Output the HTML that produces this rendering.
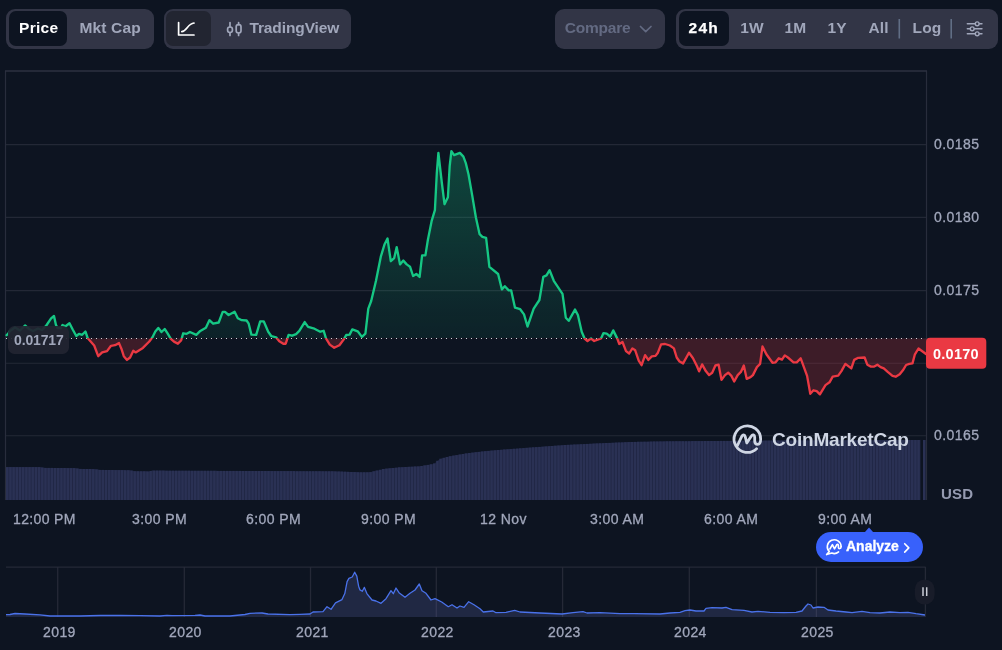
<!DOCTYPE html>
<html><head><meta charset="utf-8"><title>Chart</title>
<style>
*{box-sizing:border-box;margin:0;padding:0}
html,body{width:1002px;height:650px;background:#0d1421;overflow:hidden;font-family:"Liberation Sans",sans-serif;}
.pill{position:absolute;top:9px;height:40px;background:#323546;border-radius:9px;}
.seg{position:absolute;top:2px;height:35px;border-radius:7px;}
.t{position:absolute;top:-1.4px;letter-spacing:0.1px;height:40px;line-height:40px;font-size:15.5px;font-weight:700;color:#a1a7bb;white-space:nowrap;}
.w{color:#fff}
.pill,.lab{will-change:transform}
svg{position:absolute;left:0;top:0}
.lab{position:absolute;font-size:14px;color:#a1a7bb;white-space:nowrap;line-height:16px;letter-spacing:0.42px;-webkit-text-stroke:0.3px #a1a7bb;}
</style></head><body>

<!-- toolbar -->
<div class="pill" style="left:6px;width:148px;">
  <div class="seg" style="left:2.5px;width:58.5px;background:#0d1421"></div>
  <div class="t w" style="left:13px;letter-spacing:0.3px">Price</div>
  <div class="t" style="left:73.5px;letter-spacing:0.15px">Mkt Cap</div>
</div>
<div class="pill" style="left:164px;width:187px;">
  <div class="seg" style="left:2px;width:45px;background:#222531"></div>
  <div class="t" style="left:85.4px;letter-spacing:-0.1px">TradingView</div>
</div>
<div class="pill" style="left:555.3px;width:109.7px;">
  <div class="t" style="left:9.7px;color:#636a82;letter-spacing:-0.2px">Compare</div>
</div>
<div class="pill" style="left:675.5px;width:321.5px;">
  <div class="seg" style="left:3.3px;width:49.5px;background:#0d1421"></div>
  <div class="t w" style="left:12.5px;letter-spacing:1.3px;-webkit-text-stroke:0.25px #fff">24h</div>
  <div class="t" style="left:64.2px">1W</div>
  <div class="t" style="left:108.5px">1M</div>
  <div class="t" style="left:151.5px">1Y</div>
  <div class="t" style="left:192.5px">All</div>
  <div class="t" style="left:236.6px">Log</div>
</div>

<svg width="1002" height="650" viewBox="0 0 1002 650">
  <defs>
    <clipPath id="up"><rect x="0" y="60" width="1002" height="278.3"/></clipPath>
    <clipPath id="dn"><rect x="0" y="338.3" width="1002" height="200"/></clipPath>
    <linearGradient id="gg" x1="0" y1="150" x2="0" y2="338.3" gradientUnits="userSpaceOnUse">
      <stop offset="0" stop-color="#16c784" stop-opacity="0.285"/>
      <stop offset="1" stop-color="#16c784" stop-opacity="0.075"/>
    </linearGradient>
  </defs>

  <!-- toolbar icons -->
  <g fill="none" stroke="#fff" stroke-width="1.7" stroke-linecap="round" stroke-linejoin="round">
    <path d="M178.6,22.6 V35 H194"/>
    <path d="M181.8,31.6 C187,31.2 187.5,23.6 194,23"/>
  </g>
  <g fill="none" stroke="#a1a7bb" stroke-width="1.7" stroke-linecap="round">
    <path d="M230,22.5 V27 M230,32.5 V35.5 M238.6,22.5 V24.6 M238.6,33 V35.5"/>
    <rect x="227.6" y="27" width="4.8" height="5.5" rx="2.2"/>
    <rect x="236.2" y="24.6" width="4.8" height="8.4" rx="2.2"/>
  </g>
  <path d="M640.5,26.5 L645.7,31.7 L651,26.5" fill="none" stroke="#636a82" stroke-width="1.7" stroke-linecap="round" stroke-linejoin="round"/>
  <g stroke="#616e85" stroke-width="1.6">
    <path d="M899.3,19 V38.5 M951.2,19 V38.5"/>
  </g>
  <g fill="#323546" stroke="#a1a7bb" stroke-width="1.4" stroke-linecap="round">
    <path d="M967.3,23.8 H982 M967.3,28.8 H982 M967.3,33.8 H982"/>
    <circle cx="977.2" cy="23.8" r="1.9"/>
    <circle cx="972.2" cy="28.8" r="1.9"/>
    <circle cx="977.2" cy="33.8" r="1.9"/>
  </g>

  <!-- grid -->
  <g stroke="#232836" stroke-width="1.1">
    <path d="M6,144.6 H926 M6,217.4 H926 M6,290.6 H926 M6,363.3 H926 M6,435.8 H926"/>
  </g>
  <g stroke="#282d3c" stroke-width="1.2" fill="none">
    <path d="M5.5,500 V71 M926.5,71 V500"/>
  </g>
  <path d="M5,71 H927" stroke="#2c3141" stroke-width="1.5" fill="none"/>

  <!-- volume -->
  <path d="M6.0,500.0 L6.0,467.1 L8.0,467.1 L10.0,467.1 L12.0,467.1 L14.0,467.1 L16.0,467.1 L18.0,467.1 L20.0,467.1 L22.0,467.1 L24.0,467.1 L26.0,467.1 L28.0,467.1 L30.0,467.1 L32.0,467.1 L34.0,467.1 L36.0,467.1 L38.0,467.1 L40.0,467.1 L42.0,467.4 L44.0,467.7 L46.0,467.9 L48.0,467.9 L50.0,467.9 L52.0,467.9 L54.0,468.0 L56.0,468.0 L58.0,468.0 L60.0,468.0 L62.0,468.0 L64.0,468.0 L66.0,468.0 L68.0,468.1 L70.0,468.1 L72.0,468.1 L74.0,468.1 L76.0,468.3 L78.0,468.6 L80.0,468.9 L82.0,468.9 L84.0,469.0 L86.0,469.0 L88.0,469.0 L90.0,469.0 L92.0,469.1 L94.0,469.1 L96.0,469.3 L98.0,469.6 L100.0,469.9 L102.0,469.9 L104.0,469.9 L106.0,470.0 L108.0,470.0 L110.0,470.0 L112.0,470.0 L114.0,470.0 L116.0,470.1 L118.0,470.1 L120.0,470.1 L122.0,470.1 L124.0,470.1 L126.0,470.2 L128.0,470.2 L130.0,470.2 L132.0,470.6 L134.0,471.0 L136.0,471.2 L138.0,471.2 L140.0,471.3 L142.0,471.3 L144.0,471.3 L146.0,471.3 L148.0,471.4 L150.0,471.4 L152.0,470.6 L154.0,470.6 L156.0,470.6 L158.0,470.6 L160.0,470.6 L162.0,470.6 L164.0,470.6 L166.0,470.7 L168.0,470.7 L170.0,470.7 L172.0,470.7 L174.0,470.7 L176.0,470.7 L178.0,470.7 L180.0,470.7 L182.0,470.7 L184.0,470.7 L186.0,470.7 L188.0,470.7 L190.0,470.7 L192.0,470.8 L194.0,470.8 L196.0,470.8 L198.0,470.8 L200.0,470.8 L202.0,470.8 L204.0,470.8 L206.0,470.8 L208.0,470.8 L210.0,470.8 L212.0,470.8 L214.0,470.8 L216.0,470.8 L218.0,470.9 L220.0,470.9 L222.0,470.9 L224.0,470.9 L226.0,470.9 L228.0,470.9 L230.0,470.9 L232.0,470.9 L234.0,470.9 L236.0,470.9 L238.0,470.9 L240.0,470.9 L242.0,470.9 L244.0,471.0 L246.0,471.0 L248.0,471.0 L250.0,471.0 L252.0,471.0 L254.0,471.0 L256.0,471.0 L258.0,471.0 L260.0,471.0 L262.0,471.0 L264.0,471.0 L266.0,471.0 L268.0,471.0 L270.0,471.1 L272.0,471.1 L274.0,471.1 L276.0,471.1 L278.0,471.1 L280.0,471.1 L282.0,471.1 L284.0,471.1 L286.0,471.1 L288.0,471.1 L290.0,471.1 L292.0,471.1 L294.0,471.1 L296.0,471.2 L298.0,471.2 L300.0,471.2 L302.0,471.2 L304.0,471.2 L306.0,471.2 L308.0,471.2 L310.0,471.2 L312.0,471.2 L314.0,471.2 L316.0,471.2 L318.0,471.2 L320.0,471.2 L322.0,471.3 L324.0,471.3 L326.0,471.3 L328.0,471.3 L330.0,471.3 L332.0,471.3 L334.0,471.3 L336.0,471.4 L338.0,471.5 L340.0,471.5 L342.0,471.6 L344.0,471.7 L346.0,471.8 L348.0,471.8 L350.0,471.9 L352.0,472.0 L354.0,472.1 L356.0,472.1 L358.0,472.2 L360.0,472.3 L362.0,472.3 L364.0,472.3 L366.0,472.3 L368.0,472.3 L370.0,472.3 L372.0,471.8 L374.0,471.3 L376.0,470.8 L378.0,470.4 L380.0,469.9 L382.0,469.4 L384.0,468.9 L386.0,468.7 L388.0,468.5 L390.0,468.3 L392.0,468.1 L394.0,467.9 L396.0,467.7 L398.0,467.5 L400.0,467.3 L402.0,467.2 L404.0,467.1 L406.0,467.0 L408.0,466.9 L410.0,466.8 L412.0,466.7 L414.0,466.6 L416.0,466.5 L418.0,466.4 L420.0,466.3 L422.0,466.0 L424.0,465.6 L426.0,465.3 L428.0,464.9 L430.0,464.6 L432.0,464.2 L434.0,463.9 L436.0,462.2 L438.0,460.6 L440.0,458.9 L442.0,458.4 L444.0,457.9 L446.0,457.3 L448.0,456.8 L450.0,456.3 L452.0,455.9 L454.0,455.6 L456.0,455.2 L458.0,454.9 L460.0,454.5 L462.0,454.2 L464.0,453.8 L466.0,453.5 L468.0,453.2 L470.0,452.9 L472.0,452.7 L474.0,452.5 L476.0,452.2 L478.0,452.0 L480.0,451.8 L482.0,451.5 L484.0,451.3 L486.0,451.1 L488.0,451.0 L490.0,450.8 L492.0,450.6 L494.0,450.4 L496.0,450.2 L498.0,450.1 L500.0,449.9 L502.0,449.7 L504.0,449.6 L506.0,449.4 L508.0,449.3 L510.0,449.1 L512.0,449.0 L514.0,448.8 L516.0,448.7 L518.0,448.5 L520.0,448.4 L522.0,448.2 L524.0,448.1 L526.0,447.9 L528.0,447.8 L530.0,447.6 L532.0,447.5 L534.0,447.3 L536.0,447.2 L538.0,447.0 L540.0,446.9 L542.0,446.7 L544.0,446.6 L546.0,446.4 L548.0,446.3 L550.0,446.1 L552.0,446.0 L554.0,445.8 L556.0,445.7 L558.0,445.6 L560.0,445.4 L562.0,445.3 L564.0,445.1 L566.0,445.0 L568.0,444.9 L570.0,444.8 L572.0,444.7 L574.0,444.6 L576.0,444.5 L578.0,444.4 L580.0,444.3 L582.0,444.2 L584.0,444.1 L586.0,444.0 L588.0,443.9 L590.0,443.8 L592.0,443.7 L594.0,443.6 L596.0,443.5 L598.0,443.4 L600.0,443.3 L602.0,443.2 L604.0,443.1 L606.0,443.1 L608.0,443.0 L610.0,442.9 L612.0,442.8 L614.0,442.7 L616.0,442.6 L618.0,442.6 L620.0,442.5 L622.0,442.4 L624.0,442.3 L626.0,442.2 L628.0,442.1 L630.0,442.1 L632.0,442.0 L634.0,441.9 L636.0,441.9 L638.0,441.8 L640.0,441.8 L642.0,441.8 L644.0,441.7 L646.0,441.7 L648.0,441.7 L650.0,441.6 L652.0,441.6 L654.0,441.5 L656.0,441.5 L658.0,441.5 L660.0,441.4 L662.0,441.4 L664.0,441.4 L666.0,441.3 L668.0,441.3 L670.0,441.3 L672.0,441.3 L674.0,441.3 L676.0,441.2 L678.0,441.2 L680.0,441.2 L682.0,441.2 L684.0,441.2 L686.0,441.2 L688.0,441.2 L690.0,441.2 L692.0,441.1 L694.0,441.1 L696.0,441.1 L698.0,441.1 L700.0,441.1 L702.0,441.1 L704.0,441.1 L706.0,441.0 L708.0,441.0 L710.0,441.0 L712.0,441.0 L714.0,441.0 L716.0,441.0 L718.0,441.0 L720.0,440.9 L722.0,440.9 L724.0,440.9 L726.0,440.9 L728.0,440.9 L730.0,440.9 L732.0,440.9 L734.0,440.9 L736.0,440.8 L738.0,440.8 L740.0,440.8 L742.0,440.8 L744.0,440.8 L746.0,440.8 L748.0,440.8 L750.0,440.7 L752.0,440.7 L754.0,440.7 L756.0,440.7 L758.0,440.7 L760.0,440.7 L762.0,440.7 L764.0,440.6 L766.0,440.6 L768.0,440.6 L770.0,440.6 L772.0,440.6 L774.0,440.6 L776.0,440.6 L778.0,440.6 L780.0,440.5 L782.0,440.5 L784.0,440.5 L786.0,440.5 L788.0,440.5 L790.0,440.5 L792.0,440.5 L794.0,440.4 L796.0,440.4 L798.0,440.4 L800.0,440.4 L802.0,440.4 L804.0,440.4 L806.0,440.4 L808.0,440.4 L810.0,440.4 L812.0,440.4 L814.0,440.4 L816.0,440.3 L818.0,440.3 L820.0,440.3 L822.0,440.3 L824.0,440.3 L826.0,440.3 L828.0,440.3 L830.0,440.3 L832.0,440.3 L834.0,440.3 L836.0,440.3 L838.0,440.3 L840.0,440.3 L842.0,440.3 L844.0,440.3 L846.0,440.2 L848.0,440.2 L850.0,440.2 L852.0,440.2 L854.0,440.2 L856.0,440.2 L858.0,440.2 L860.0,440.2 L862.0,440.2 L864.0,440.2 L866.0,440.2 L868.0,440.2 L870.0,440.2 L872.0,440.2 L874.0,440.2 L876.0,440.1 L878.0,440.1 L880.0,440.1 L882.0,440.1 L884.0,440.1 L886.0,440.1 L888.0,440.1 L890.0,440.1 L892.0,440.1 L894.0,440.1 L896.0,440.1 L898.0,440.1 L900.0,440.1 L902.0,440.1 L904.0,440.1 L906.0,440.0 L908.0,440.0 L910.0,440.0 L912.0,440.0 L914.0,440.0 L916.0,440.0 L918.0,440.0 L920.0,440.0 L920.5,439.4 L920.5,500.0 Z" fill="#1f2542"/>
  <g fill="#2a3154"><rect x="6.00" y="467.1" width="2.49" height="32.9"/><rect x="9.19" y="467.1" width="2.49" height="32.9"/><rect x="12.37" y="467.1" width="2.49" height="32.9"/><rect x="15.56" y="467.1" width="2.49" height="32.9"/><rect x="18.75" y="467.1" width="2.49" height="32.9"/><rect x="21.93" y="467.1" width="2.49" height="32.9"/><rect x="25.12" y="467.1" width="2.49" height="32.9"/><rect x="28.30" y="467.1" width="2.49" height="32.9"/><rect x="31.49" y="467.1" width="2.49" height="32.9"/><rect x="34.68" y="467.1" width="2.49" height="32.9"/><rect x="37.86" y="467.1" width="2.49" height="32.9"/><rect x="41.05" y="467.5" width="2.49" height="32.5"/><rect x="44.24" y="467.9" width="2.49" height="32.1"/><rect x="47.42" y="467.9" width="2.49" height="32.1"/><rect x="50.61" y="467.9" width="2.49" height="32.1"/><rect x="53.80" y="468.0" width="2.49" height="32.0"/><rect x="56.98" y="468.0" width="2.49" height="32.0"/><rect x="60.17" y="468.0" width="2.49" height="32.0"/><rect x="63.36" y="468.0" width="2.49" height="32.0"/><rect x="66.54" y="468.1" width="2.49" height="31.9"/><rect x="69.73" y="468.1" width="2.49" height="31.9"/><rect x="72.91" y="468.1" width="2.49" height="31.9"/><rect x="76.10" y="468.5" width="2.49" height="31.5"/><rect x="79.29" y="468.9" width="2.49" height="31.1"/><rect x="82.47" y="469.0" width="2.49" height="31.0"/><rect x="85.66" y="469.0" width="2.49" height="31.0"/><rect x="88.85" y="469.0" width="2.49" height="31.0"/><rect x="92.03" y="469.1" width="2.49" height="30.9"/><rect x="95.22" y="469.4" width="2.49" height="30.6"/><rect x="98.41" y="469.9" width="2.49" height="30.1"/><rect x="101.59" y="469.9" width="2.49" height="30.1"/><rect x="104.78" y="470.0" width="2.49" height="30.0"/><rect x="107.97" y="470.0" width="2.49" height="30.0"/><rect x="111.15" y="470.0" width="2.49" height="30.0"/><rect x="114.34" y="470.1" width="2.49" height="29.9"/><rect x="117.52" y="470.1" width="2.49" height="29.9"/><rect x="120.71" y="470.1" width="2.49" height="29.9"/><rect x="123.90" y="470.2" width="2.49" height="29.8"/><rect x="127.08" y="470.2" width="2.49" height="29.8"/><rect x="130.27" y="470.6" width="2.49" height="29.4"/><rect x="133.46" y="471.2" width="2.49" height="28.8"/><rect x="136.64" y="471.2" width="2.49" height="28.8"/><rect x="139.83" y="471.3" width="2.49" height="28.7"/><rect x="143.02" y="471.3" width="2.49" height="28.7"/><rect x="146.20" y="471.4" width="2.49" height="28.6"/><rect x="149.39" y="471.0" width="2.49" height="29.0"/><rect x="152.57" y="470.6" width="2.49" height="29.4"/><rect x="155.76" y="470.6" width="2.49" height="29.4"/><rect x="158.95" y="470.6" width="2.49" height="29.4"/><rect x="162.13" y="470.6" width="2.49" height="29.4"/><rect x="165.32" y="470.7" width="2.49" height="29.3"/><rect x="168.51" y="470.7" width="2.49" height="29.3"/><rect x="171.69" y="470.7" width="2.49" height="29.3"/><rect x="174.88" y="470.7" width="2.49" height="29.3"/><rect x="178.07" y="470.7" width="2.49" height="29.3"/><rect x="181.25" y="470.7" width="2.49" height="29.3"/><rect x="184.44" y="470.7" width="2.49" height="29.3"/><rect x="187.63" y="470.7" width="2.49" height="29.3"/><rect x="190.81" y="470.8" width="2.49" height="29.2"/><rect x="194.00" y="470.8" width="2.49" height="29.2"/><rect x="197.18" y="470.8" width="2.49" height="29.2"/><rect x="200.37" y="470.8" width="2.49" height="29.2"/><rect x="203.56" y="470.8" width="2.49" height="29.2"/><rect x="206.74" y="470.8" width="2.49" height="29.2"/><rect x="209.93" y="470.8" width="2.49" height="29.2"/><rect x="213.12" y="470.8" width="2.49" height="29.2"/><rect x="216.30" y="470.9" width="2.49" height="29.1"/><rect x="219.49" y="470.9" width="2.49" height="29.1"/><rect x="222.68" y="470.9" width="2.49" height="29.1"/><rect x="225.86" y="470.9" width="2.49" height="29.1"/><rect x="229.05" y="470.9" width="2.49" height="29.1"/><rect x="232.24" y="470.9" width="2.49" height="29.1"/><rect x="235.42" y="470.9" width="2.49" height="29.1"/><rect x="238.61" y="470.9" width="2.49" height="29.1"/><rect x="241.79" y="471.0" width="2.49" height="29.0"/><rect x="244.98" y="471.0" width="2.49" height="29.0"/><rect x="248.17" y="471.0" width="2.49" height="29.0"/><rect x="251.35" y="471.0" width="2.49" height="29.0"/><rect x="254.54" y="471.0" width="2.49" height="29.0"/><rect x="257.73" y="471.0" width="2.49" height="29.0"/><rect x="260.91" y="471.0" width="2.49" height="29.0"/><rect x="264.10" y="471.0" width="2.49" height="29.0"/><rect x="267.29" y="471.0" width="2.49" height="29.0"/><rect x="270.47" y="471.1" width="2.49" height="28.9"/><rect x="273.66" y="471.1" width="2.49" height="28.9"/><rect x="276.84" y="471.1" width="2.49" height="28.9"/><rect x="280.03" y="471.1" width="2.49" height="28.9"/><rect x="283.22" y="471.1" width="2.49" height="28.9"/><rect x="286.40" y="471.1" width="2.49" height="28.9"/><rect x="289.59" y="471.1" width="2.49" height="28.9"/><rect x="292.78" y="471.1" width="2.49" height="28.9"/><rect x="295.96" y="471.2" width="2.49" height="28.8"/><rect x="299.15" y="471.2" width="2.49" height="28.8"/><rect x="302.34" y="471.2" width="2.49" height="28.8"/><rect x="305.52" y="471.2" width="2.49" height="28.8"/><rect x="308.71" y="471.2" width="2.49" height="28.8"/><rect x="311.90" y="471.2" width="2.49" height="28.8"/><rect x="315.08" y="471.2" width="2.49" height="28.8"/><rect x="318.27" y="471.2" width="2.49" height="28.8"/><rect x="321.45" y="471.3" width="2.49" height="28.7"/><rect x="324.64" y="471.3" width="2.49" height="28.7"/><rect x="327.83" y="471.3" width="2.49" height="28.7"/><rect x="331.01" y="471.3" width="2.49" height="28.7"/><rect x="334.20" y="471.4" width="2.49" height="28.6"/><rect x="337.39" y="471.5" width="2.49" height="28.5"/><rect x="340.57" y="471.6" width="2.49" height="28.4"/><rect x="343.76" y="471.7" width="2.49" height="28.3"/><rect x="346.95" y="471.9" width="2.49" height="28.1"/><rect x="350.13" y="472.0" width="2.49" height="28.0"/><rect x="353.32" y="472.1" width="2.49" height="27.9"/><rect x="356.51" y="472.2" width="2.49" height="27.8"/><rect x="359.69" y="472.3" width="2.49" height="27.7"/><rect x="362.88" y="472.3" width="2.49" height="27.7"/><rect x="366.06" y="472.3" width="2.49" height="27.7"/><rect x="369.25" y="472.1" width="2.49" height="27.9"/><rect x="372.44" y="471.3" width="2.49" height="28.7"/><rect x="375.62" y="470.5" width="2.49" height="29.5"/><rect x="378.81" y="469.8" width="2.49" height="30.2"/><rect x="382.00" y="469.0" width="2.49" height="31.0"/><rect x="385.18" y="468.6" width="2.49" height="31.4"/><rect x="388.37" y="468.3" width="2.49" height="31.7"/><rect x="391.56" y="468.0" width="2.49" height="32.0"/><rect x="394.74" y="467.7" width="2.49" height="32.3"/><rect x="397.93" y="467.3" width="2.49" height="32.7"/><rect x="401.11" y="467.2" width="2.49" height="32.8"/><rect x="404.30" y="467.0" width="2.49" height="33.0"/><rect x="407.49" y="466.8" width="2.49" height="33.2"/><rect x="410.67" y="466.7" width="2.49" height="33.3"/><rect x="413.86" y="466.5" width="2.49" height="33.5"/><rect x="417.05" y="466.4" width="2.49" height="33.6"/><rect x="420.23" y="466.0" width="2.49" height="34.0"/><rect x="423.42" y="465.4" width="2.49" height="34.6"/><rect x="426.61" y="464.9" width="2.49" height="35.1"/><rect x="429.79" y="464.3" width="2.49" height="35.7"/><rect x="432.98" y="463.4" width="2.49" height="36.6"/><rect x="436.17" y="460.8" width="2.49" height="39.2"/><rect x="439.35" y="458.7" width="2.49" height="41.3"/><rect x="442.54" y="457.8" width="2.49" height="42.2"/><rect x="445.72" y="457.0" width="2.49" height="43.0"/><rect x="448.91" y="456.2" width="2.49" height="43.8"/><rect x="452.10" y="455.6" width="2.49" height="44.4"/><rect x="455.28" y="455.1" width="2.49" height="44.9"/><rect x="458.47" y="454.5" width="2.49" height="45.5"/><rect x="461.66" y="454.0" width="2.49" height="46.0"/><rect x="464.84" y="453.4" width="2.49" height="46.6"/><rect x="468.03" y="453.0" width="2.49" height="47.0"/><rect x="471.22" y="452.6" width="2.49" height="47.4"/><rect x="474.40" y="452.2" width="2.49" height="47.8"/><rect x="477.59" y="451.9" width="2.49" height="48.1"/><rect x="480.78" y="451.5" width="2.49" height="48.5"/><rect x="483.96" y="451.2" width="2.49" height="48.8"/><rect x="487.15" y="450.9" width="2.49" height="49.1"/><rect x="490.33" y="450.6" width="2.49" height="49.4"/><rect x="493.52" y="450.3" width="2.49" height="49.7"/><rect x="496.71" y="450.0" width="2.49" height="50.0"/><rect x="499.89" y="449.8" width="2.49" height="50.2"/><rect x="503.08" y="449.5" width="2.49" height="50.5"/><rect x="506.27" y="449.3" width="2.49" height="50.7"/><rect x="509.45" y="449.1" width="2.49" height="50.9"/><rect x="512.64" y="448.8" width="2.49" height="51.2"/><rect x="515.83" y="448.6" width="2.49" height="51.4"/><rect x="519.01" y="448.3" width="2.49" height="51.7"/><rect x="522.20" y="448.1" width="2.49" height="51.9"/><rect x="525.39" y="447.8" width="2.49" height="52.2"/><rect x="528.57" y="447.6" width="2.49" height="52.4"/><rect x="531.76" y="447.3" width="2.49" height="52.7"/><rect x="534.94" y="447.1" width="2.49" height="52.9"/><rect x="538.13" y="446.9" width="2.49" height="53.1"/><rect x="541.32" y="446.7" width="2.49" height="53.3"/><rect x="544.50" y="446.4" width="2.49" height="53.6"/><rect x="547.69" y="446.2" width="2.49" height="53.8"/><rect x="550.88" y="446.0" width="2.49" height="54.0"/><rect x="554.06" y="445.7" width="2.49" height="54.3"/><rect x="557.25" y="445.5" width="2.49" height="54.5"/><rect x="560.44" y="445.3" width="2.49" height="54.7"/><rect x="563.62" y="445.0" width="2.49" height="55.0"/><rect x="566.81" y="444.8" width="2.49" height="55.2"/><rect x="569.99" y="444.7" width="2.49" height="55.3"/><rect x="573.18" y="444.5" width="2.49" height="55.5"/><rect x="576.37" y="444.4" width="2.49" height="55.6"/><rect x="579.55" y="444.2" width="2.49" height="55.8"/><rect x="582.74" y="444.1" width="2.49" height="55.9"/><rect x="585.93" y="443.9" width="2.49" height="56.1"/><rect x="589.11" y="443.8" width="2.49" height="56.2"/><rect x="592.30" y="443.6" width="2.49" height="56.4"/><rect x="595.49" y="443.4" width="2.49" height="56.6"/><rect x="598.67" y="443.3" width="2.49" height="56.7"/><rect x="601.86" y="443.2" width="2.49" height="56.8"/><rect x="605.05" y="443.0" width="2.49" height="57.0"/><rect x="608.23" y="442.9" width="2.49" height="57.1"/><rect x="611.42" y="442.8" width="2.49" height="57.2"/><rect x="614.60" y="442.6" width="2.49" height="57.4"/><rect x="617.79" y="442.5" width="2.49" height="57.5"/><rect x="620.98" y="442.4" width="2.49" height="57.6"/><rect x="624.16" y="442.2" width="2.49" height="57.8"/><rect x="627.35" y="442.1" width="2.49" height="57.9"/><rect x="630.54" y="442.0" width="2.49" height="58.0"/><rect x="633.72" y="441.9" width="2.49" height="58.1"/><rect x="636.91" y="441.8" width="2.49" height="58.2"/><rect x="640.10" y="441.8" width="2.49" height="58.2"/><rect x="643.28" y="441.7" width="2.49" height="58.3"/><rect x="646.47" y="441.7" width="2.49" height="58.3"/><rect x="649.66" y="441.6" width="2.49" height="58.4"/><rect x="652.84" y="441.5" width="2.49" height="58.5"/><rect x="656.03" y="441.5" width="2.49" height="58.5"/><rect x="659.21" y="441.4" width="2.49" height="58.6"/><rect x="662.40" y="441.4" width="2.49" height="58.6"/><rect x="665.59" y="441.3" width="2.49" height="58.7"/><rect x="668.77" y="441.3" width="2.49" height="58.7"/><rect x="671.96" y="441.3" width="2.49" height="58.7"/><rect x="675.15" y="441.2" width="2.49" height="58.8"/><rect x="678.33" y="441.2" width="2.49" height="58.8"/><rect x="681.52" y="441.2" width="2.49" height="58.8"/><rect x="684.71" y="441.2" width="2.49" height="58.8"/><rect x="687.89" y="441.2" width="2.49" height="58.8"/><rect x="691.08" y="441.1" width="2.49" height="58.9"/><rect x="694.26" y="441.1" width="2.49" height="58.9"/><rect x="697.45" y="441.1" width="2.49" height="58.9"/><rect x="700.64" y="441.1" width="2.49" height="58.9"/><rect x="703.82" y="441.0" width="2.49" height="59.0"/><rect x="707.01" y="441.0" width="2.49" height="59.0"/><rect x="710.20" y="441.0" width="2.49" height="59.0"/><rect x="713.38" y="441.0" width="2.49" height="59.0"/><rect x="716.57" y="441.0" width="2.49" height="59.0"/><rect x="719.76" y="440.9" width="2.49" height="59.1"/><rect x="722.94" y="440.9" width="2.49" height="59.1"/><rect x="726.13" y="440.9" width="2.49" height="59.1"/><rect x="729.32" y="440.9" width="2.49" height="59.1"/><rect x="732.50" y="440.8" width="2.49" height="59.2"/><rect x="735.69" y="440.8" width="2.49" height="59.2"/><rect x="738.87" y="440.8" width="2.49" height="59.2"/><rect x="742.06" y="440.8" width="2.49" height="59.2"/><rect x="745.25" y="440.8" width="2.49" height="59.2"/><rect x="748.43" y="440.7" width="2.49" height="59.3"/><rect x="751.62" y="440.7" width="2.49" height="59.3"/><rect x="754.81" y="440.7" width="2.49" height="59.3"/><rect x="757.99" y="440.7" width="2.49" height="59.3"/><rect x="761.18" y="440.7" width="2.49" height="59.3"/><rect x="764.37" y="440.6" width="2.49" height="59.4"/><rect x="767.55" y="440.6" width="2.49" height="59.4"/><rect x="770.74" y="440.6" width="2.49" height="59.4"/><rect x="773.93" y="440.6" width="2.49" height="59.4"/><rect x="777.11" y="440.5" width="2.49" height="59.5"/><rect x="780.30" y="440.5" width="2.49" height="59.5"/><rect x="783.48" y="440.5" width="2.49" height="59.5"/><rect x="786.67" y="440.5" width="2.49" height="59.5"/><rect x="789.86" y="440.5" width="2.49" height="59.5"/><rect x="793.04" y="440.4" width="2.49" height="59.6"/><rect x="796.23" y="440.4" width="2.49" height="59.6"/><rect x="799.42" y="440.4" width="2.49" height="59.6"/><rect x="802.60" y="440.4" width="2.49" height="59.6"/><rect x="805.79" y="440.4" width="2.49" height="59.6"/><rect x="808.98" y="440.4" width="2.49" height="59.6"/><rect x="812.16" y="440.4" width="2.49" height="59.6"/><rect x="815.35" y="440.3" width="2.49" height="59.7"/><rect x="818.53" y="440.3" width="2.49" height="59.7"/><rect x="821.72" y="440.3" width="2.49" height="59.7"/><rect x="824.91" y="440.3" width="2.49" height="59.7"/><rect x="828.09" y="440.3" width="2.49" height="59.7"/><rect x="831.28" y="440.3" width="2.49" height="59.7"/><rect x="834.47" y="440.3" width="2.49" height="59.7"/><rect x="837.65" y="440.3" width="2.49" height="59.7"/><rect x="840.84" y="440.3" width="2.49" height="59.7"/><rect x="844.03" y="440.2" width="2.49" height="59.8"/><rect x="847.21" y="440.2" width="2.49" height="59.8"/><rect x="850.40" y="440.2" width="2.49" height="59.8"/><rect x="853.59" y="440.2" width="2.49" height="59.8"/><rect x="856.77" y="440.2" width="2.49" height="59.8"/><rect x="859.96" y="440.2" width="2.49" height="59.8"/><rect x="863.14" y="440.2" width="2.49" height="59.8"/><rect x="866.33" y="440.2" width="2.49" height="59.8"/><rect x="869.52" y="440.2" width="2.49" height="59.8"/><rect x="872.70" y="440.2" width="2.49" height="59.8"/><rect x="875.89" y="440.1" width="2.49" height="59.9"/><rect x="879.08" y="440.1" width="2.49" height="59.9"/><rect x="882.26" y="440.1" width="2.49" height="59.9"/><rect x="885.45" y="440.1" width="2.49" height="59.9"/><rect x="888.64" y="440.1" width="2.49" height="59.9"/><rect x="891.82" y="440.1" width="2.49" height="59.9"/><rect x="895.01" y="440.1" width="2.49" height="59.9"/><rect x="898.20" y="440.1" width="2.49" height="59.9"/><rect x="901.38" y="440.1" width="2.49" height="59.9"/><rect x="904.57" y="440.0" width="2.49" height="60.0"/><rect x="907.75" y="440.0" width="2.49" height="60.0"/><rect x="910.94" y="440.0" width="2.49" height="60.0"/><rect x="914.13" y="440.0" width="2.49" height="60.0"/><rect x="917.31" y="440.0" width="2.49" height="60.0"/><rect x="923" y="440" width="2.6" height="60"/></g>

  <!-- areas -->
  <path d="M6.6,335.2 L8.0,334.0 L10.0,331.0 L15.0,327.5 L20.0,330.5 L25.0,325.5 L29.0,329.0 L33.0,331.0 L38.0,328.5 L42.0,330.0 L46.3,325.5 L51.1,318.4 L54.0,316.0 L55.9,324.8 L57.5,328.0 L61.0,328.0 L62.5,325.0 L65.5,326.3 L69.5,323.2 L72.7,329.5 L76.3,336.0 L79.0,333.9 L82.2,334.8 L85.4,331.5 L87.8,338.3 L94.2,345.5 L98.2,356.2 L102.2,352.4 L107.0,351.1 L111.0,345.8 L115.0,345.2 L119.0,343.1 L121.4,348.7 L123.8,356.2 L127.0,359.9 L130.1,357.5 L133.3,350.8 L135.7,352.4 L142.9,347.9 L149.3,341.5 L152.5,337.2 L155.3,331.5 L158.3,327.9 L161.5,332.0 L164.7,329.0 L167.6,333.3 L170.8,338.9 L174.0,341.6 L177.9,343.7 L181.1,340.5 L183.2,333.3 L186.7,333.8 L189.9,332.0 L196.3,334.9 L200.3,330.9 L205.9,327.7 L209.4,320.2 L213.1,323.7 L218.7,322.5 L222.7,311.8 L225.0,311.8 L228.6,315.0 L234.6,311.8 L237.8,318.2 L241.8,320.2 L246.6,320.5 L248.7,323.7 L251.4,334.6 L256.2,334.9 L260.2,321.3 L263.7,321.3 L268.2,331.7 L271.4,336.2 L276.1,337.3 L279.3,341.3 L283.3,343.7 L285.7,343.7 L288.6,334.9 L292.1,335.7 L296.1,334.1 L299.3,330.9 L304.7,322.1 L308.1,326.9 L313.5,328.3 L320.2,331.7 L323.7,330.8 L326.0,338.5 L329.8,344.6 L334.2,347.7 L339.4,345.2 L343.8,339.4 L346.2,335.0 L349.6,334.6 L352.3,329.4 L357.7,331.3 L361.9,336.9 L365.4,333.7 L368.3,308.7 L371.2,301.0 L376.0,280.8 L380.8,256.7 L384.6,244.2 L387.5,238.5 L390.8,261.2 L394.2,258.1 L396.7,247.1 L400.0,264.4 L403.3,260.6 L406.7,264.4 L410.0,266.7 L413.1,276.0 L416.3,274.0 L419.6,276.9 L422.1,255.4 L425.4,255.4 L427.9,239.7 L431.6,221.2 L434.9,210.2 L436.8,173.2 L438.4,152.9 L441.8,182.5 L444.5,204.2 L447.9,197.2 L449.7,165.8 L451.4,151.1 L454.1,155.1 L459.9,152.9 L463.4,156.6 L465.8,163.1 L468.5,174.2 L472.2,195.4 L475.9,217.5 L479.6,234.2 L482.4,236.9 L486.1,237.8 L489.4,266.9 L498.1,274.0 L501.9,289.4 L504.8,286.2 L508.7,290.4 L511.2,290.4 L515.0,307.7 L520.2,309.2 L524.0,314.4 L527.5,326.5 L533.7,308.7 L539.4,300.0 L543.3,276.9 L546.5,275.4 L549.6,270.2 L553.8,280.8 L562.5,293.8 L565.8,317.7 L568.7,320.8 L575.0,309.6 L577.9,315.0 L581.7,331.7 L584.6,338.5 L587.5,341.0 L591.0,338.5 L594.2,341.0 L601.0,338.5 L603.5,333.1 L606.7,333.7 L610.2,336.5 L613.2,330.4 L617.2,338.4 L619.3,344.0 L622.5,342.0 L626.0,351.1 L629.2,353.5 L632.4,348.4 L635.2,350.3 L638.7,360.7 L641.6,365.2 L645.1,355.1 L648.3,359.9 L651.8,356.4 L655.5,355.9 L657.9,352.7 L661.1,344.3 L665.1,344.0 L669.9,345.5 L673.9,348.4 L676.7,357.5 L679.5,361.5 L683.1,363.4 L689.0,352.7 L693.0,358.3 L697.0,366.3 L699.1,371.4 L702.1,364.4 L705.8,371.1 L709.0,375.1 L712.2,372.7 L715.4,365.5 L718.6,364.7 L721.5,379.9 L725.0,375.1 L728.2,372.7 L731.4,375.9 L734.2,381.5 L737.7,375.1 L740.9,371.9 L743.8,365.5 L746.7,378.8 L750.5,377.2 L752.9,375.1 L756.9,367.1 L760.1,363.9 L762.5,346.5 L766.4,354.3 L772.5,362.8 L775.6,362.3 L778.8,358.3 L782.0,359.6 L784.8,355.4 L787.9,357.5 L793.5,362.3 L796.7,362.3 L800.7,358.3 L803.9,367.1 L807.1,375.9 L810.3,393.8 L813.5,390.3 L816.7,391.1 L819.9,394.3 L825.5,385.1 L829.5,382.3 L832.7,376.7 L838.2,375.6 L841.4,371.1 L845.4,363.9 L851.3,368.4 L854.2,359.9 L858.2,357.8 L864.6,357.5 L867.3,364.7 L871.0,366.6 L874.2,366.6 L877.4,364.7 L880.6,367.1 L883.8,368.4 L887.7,371.9 L892.5,375.9 L895.7,376.7 L899.7,374.3 L902.9,370.3 L906.1,365.0 L909.3,363.9 L912.5,363.4 L914.9,354.3 L918.5,348.5 L926.0,354.0 L926,338.3 L6,338.3 Z" fill="url(#gg)" clip-path="url(#up)"/>
  <path d="M6.6,335.2 L8.0,334.0 L10.0,331.0 L15.0,327.5 L20.0,330.5 L25.0,325.5 L29.0,329.0 L33.0,331.0 L38.0,328.5 L42.0,330.0 L46.3,325.5 L51.1,318.4 L54.0,316.0 L55.9,324.8 L57.5,328.0 L61.0,328.0 L62.5,325.0 L65.5,326.3 L69.5,323.2 L72.7,329.5 L76.3,336.0 L79.0,333.9 L82.2,334.8 L85.4,331.5 L87.8,338.3 L94.2,345.5 L98.2,356.2 L102.2,352.4 L107.0,351.1 L111.0,345.8 L115.0,345.2 L119.0,343.1 L121.4,348.7 L123.8,356.2 L127.0,359.9 L130.1,357.5 L133.3,350.8 L135.7,352.4 L142.9,347.9 L149.3,341.5 L152.5,337.2 L155.3,331.5 L158.3,327.9 L161.5,332.0 L164.7,329.0 L167.6,333.3 L170.8,338.9 L174.0,341.6 L177.9,343.7 L181.1,340.5 L183.2,333.3 L186.7,333.8 L189.9,332.0 L196.3,334.9 L200.3,330.9 L205.9,327.7 L209.4,320.2 L213.1,323.7 L218.7,322.5 L222.7,311.8 L225.0,311.8 L228.6,315.0 L234.6,311.8 L237.8,318.2 L241.8,320.2 L246.6,320.5 L248.7,323.7 L251.4,334.6 L256.2,334.9 L260.2,321.3 L263.7,321.3 L268.2,331.7 L271.4,336.2 L276.1,337.3 L279.3,341.3 L283.3,343.7 L285.7,343.7 L288.6,334.9 L292.1,335.7 L296.1,334.1 L299.3,330.9 L304.7,322.1 L308.1,326.9 L313.5,328.3 L320.2,331.7 L323.7,330.8 L326.0,338.5 L329.8,344.6 L334.2,347.7 L339.4,345.2 L343.8,339.4 L346.2,335.0 L349.6,334.6 L352.3,329.4 L357.7,331.3 L361.9,336.9 L365.4,333.7 L368.3,308.7 L371.2,301.0 L376.0,280.8 L380.8,256.7 L384.6,244.2 L387.5,238.5 L390.8,261.2 L394.2,258.1 L396.7,247.1 L400.0,264.4 L403.3,260.6 L406.7,264.4 L410.0,266.7 L413.1,276.0 L416.3,274.0 L419.6,276.9 L422.1,255.4 L425.4,255.4 L427.9,239.7 L431.6,221.2 L434.9,210.2 L436.8,173.2 L438.4,152.9 L441.8,182.5 L444.5,204.2 L447.9,197.2 L449.7,165.8 L451.4,151.1 L454.1,155.1 L459.9,152.9 L463.4,156.6 L465.8,163.1 L468.5,174.2 L472.2,195.4 L475.9,217.5 L479.6,234.2 L482.4,236.9 L486.1,237.8 L489.4,266.9 L498.1,274.0 L501.9,289.4 L504.8,286.2 L508.7,290.4 L511.2,290.4 L515.0,307.7 L520.2,309.2 L524.0,314.4 L527.5,326.5 L533.7,308.7 L539.4,300.0 L543.3,276.9 L546.5,275.4 L549.6,270.2 L553.8,280.8 L562.5,293.8 L565.8,317.7 L568.7,320.8 L575.0,309.6 L577.9,315.0 L581.7,331.7 L584.6,338.5 L587.5,341.0 L591.0,338.5 L594.2,341.0 L601.0,338.5 L603.5,333.1 L606.7,333.7 L610.2,336.5 L613.2,330.4 L617.2,338.4 L619.3,344.0 L622.5,342.0 L626.0,351.1 L629.2,353.5 L632.4,348.4 L635.2,350.3 L638.7,360.7 L641.6,365.2 L645.1,355.1 L648.3,359.9 L651.8,356.4 L655.5,355.9 L657.9,352.7 L661.1,344.3 L665.1,344.0 L669.9,345.5 L673.9,348.4 L676.7,357.5 L679.5,361.5 L683.1,363.4 L689.0,352.7 L693.0,358.3 L697.0,366.3 L699.1,371.4 L702.1,364.4 L705.8,371.1 L709.0,375.1 L712.2,372.7 L715.4,365.5 L718.6,364.7 L721.5,379.9 L725.0,375.1 L728.2,372.7 L731.4,375.9 L734.2,381.5 L737.7,375.1 L740.9,371.9 L743.8,365.5 L746.7,378.8 L750.5,377.2 L752.9,375.1 L756.9,367.1 L760.1,363.9 L762.5,346.5 L766.4,354.3 L772.5,362.8 L775.6,362.3 L778.8,358.3 L782.0,359.6 L784.8,355.4 L787.9,357.5 L793.5,362.3 L796.7,362.3 L800.7,358.3 L803.9,367.1 L807.1,375.9 L810.3,393.8 L813.5,390.3 L816.7,391.1 L819.9,394.3 L825.5,385.1 L829.5,382.3 L832.7,376.7 L838.2,375.6 L841.4,371.1 L845.4,363.9 L851.3,368.4 L854.2,359.9 L858.2,357.8 L864.6,357.5 L867.3,364.7 L871.0,366.6 L874.2,366.6 L877.4,364.7 L880.6,367.1 L883.8,368.4 L887.7,371.9 L892.5,375.9 L895.7,376.7 L899.7,374.3 L902.9,370.3 L906.1,365.0 L909.3,363.9 L912.5,363.4 L914.9,354.3 L918.5,348.5 L926.0,354.0 L926,338.3 L6,338.3 Z" fill="#ea3943" fill-opacity="0.22" clip-path="url(#dn)"/>

  <!-- baseline dotted -->
  <path d="M6,338.5 H926" stroke="#d0d2da" stroke-width="1" stroke-dasharray="1 4" fill="none" shape-rendering="crispEdges"/>

  <!-- lines -->
  <path d="M6.6,335.2 L8.0,334.0 L10.0,331.0 L15.0,327.5 L20.0,330.5 L25.0,325.5 L29.0,329.0 L33.0,331.0 L38.0,328.5 L42.0,330.0 L46.3,325.5 L51.1,318.4 L54.0,316.0 L55.9,324.8 L57.5,328.0 L61.0,328.0 L62.5,325.0 L65.5,326.3 L69.5,323.2 L72.7,329.5 L76.3,336.0 L79.0,333.9 L82.2,334.8 L85.4,331.5 L87.8,338.3 L94.2,345.5 L98.2,356.2 L102.2,352.4 L107.0,351.1 L111.0,345.8 L115.0,345.2 L119.0,343.1 L121.4,348.7 L123.8,356.2 L127.0,359.9 L130.1,357.5 L133.3,350.8 L135.7,352.4 L142.9,347.9 L149.3,341.5 L152.5,337.2 L155.3,331.5 L158.3,327.9 L161.5,332.0 L164.7,329.0 L167.6,333.3 L170.8,338.9 L174.0,341.6 L177.9,343.7 L181.1,340.5 L183.2,333.3 L186.7,333.8 L189.9,332.0 L196.3,334.9 L200.3,330.9 L205.9,327.7 L209.4,320.2 L213.1,323.7 L218.7,322.5 L222.7,311.8 L225.0,311.8 L228.6,315.0 L234.6,311.8 L237.8,318.2 L241.8,320.2 L246.6,320.5 L248.7,323.7 L251.4,334.6 L256.2,334.9 L260.2,321.3 L263.7,321.3 L268.2,331.7 L271.4,336.2 L276.1,337.3 L279.3,341.3 L283.3,343.7 L285.7,343.7 L288.6,334.9 L292.1,335.7 L296.1,334.1 L299.3,330.9 L304.7,322.1 L308.1,326.9 L313.5,328.3 L320.2,331.7 L323.7,330.8 L326.0,338.5 L329.8,344.6 L334.2,347.7 L339.4,345.2 L343.8,339.4 L346.2,335.0 L349.6,334.6 L352.3,329.4 L357.7,331.3 L361.9,336.9 L365.4,333.7 L368.3,308.7 L371.2,301.0 L376.0,280.8 L380.8,256.7 L384.6,244.2 L387.5,238.5 L390.8,261.2 L394.2,258.1 L396.7,247.1 L400.0,264.4 L403.3,260.6 L406.7,264.4 L410.0,266.7 L413.1,276.0 L416.3,274.0 L419.6,276.9 L422.1,255.4 L425.4,255.4 L427.9,239.7 L431.6,221.2 L434.9,210.2 L436.8,173.2 L438.4,152.9 L441.8,182.5 L444.5,204.2 L447.9,197.2 L449.7,165.8 L451.4,151.1 L454.1,155.1 L459.9,152.9 L463.4,156.6 L465.8,163.1 L468.5,174.2 L472.2,195.4 L475.9,217.5 L479.6,234.2 L482.4,236.9 L486.1,237.8 L489.4,266.9 L498.1,274.0 L501.9,289.4 L504.8,286.2 L508.7,290.4 L511.2,290.4 L515.0,307.7 L520.2,309.2 L524.0,314.4 L527.5,326.5 L533.7,308.7 L539.4,300.0 L543.3,276.9 L546.5,275.4 L549.6,270.2 L553.8,280.8 L562.5,293.8 L565.8,317.7 L568.7,320.8 L575.0,309.6 L577.9,315.0 L581.7,331.7 L584.6,338.5 L587.5,341.0 L591.0,338.5 L594.2,341.0 L601.0,338.5 L603.5,333.1 L606.7,333.7 L610.2,336.5 L613.2,330.4 L617.2,338.4 L619.3,344.0 L622.5,342.0 L626.0,351.1 L629.2,353.5 L632.4,348.4 L635.2,350.3 L638.7,360.7 L641.6,365.2 L645.1,355.1 L648.3,359.9 L651.8,356.4 L655.5,355.9 L657.9,352.7 L661.1,344.3 L665.1,344.0 L669.9,345.5 L673.9,348.4 L676.7,357.5 L679.5,361.5 L683.1,363.4 L689.0,352.7 L693.0,358.3 L697.0,366.3 L699.1,371.4 L702.1,364.4 L705.8,371.1 L709.0,375.1 L712.2,372.7 L715.4,365.5 L718.6,364.7 L721.5,379.9 L725.0,375.1 L728.2,372.7 L731.4,375.9 L734.2,381.5 L737.7,375.1 L740.9,371.9 L743.8,365.5 L746.7,378.8 L750.5,377.2 L752.9,375.1 L756.9,367.1 L760.1,363.9 L762.5,346.5 L766.4,354.3 L772.5,362.8 L775.6,362.3 L778.8,358.3 L782.0,359.6 L784.8,355.4 L787.9,357.5 L793.5,362.3 L796.7,362.3 L800.7,358.3 L803.9,367.1 L807.1,375.9 L810.3,393.8 L813.5,390.3 L816.7,391.1 L819.9,394.3 L825.5,385.1 L829.5,382.3 L832.7,376.7 L838.2,375.6 L841.4,371.1 L845.4,363.9 L851.3,368.4 L854.2,359.9 L858.2,357.8 L864.6,357.5 L867.3,364.7 L871.0,366.6 L874.2,366.6 L877.4,364.7 L880.6,367.1 L883.8,368.4 L887.7,371.9 L892.5,375.9 L895.7,376.7 L899.7,374.3 L902.9,370.3 L906.1,365.0 L909.3,363.9 L912.5,363.4 L914.9,354.3 L918.5,348.5 L926.0,354.0" fill="none" stroke="#16c784" stroke-width="2.35" stroke-linejoin="round" stroke-linecap="round" clip-path="url(#up)"/>
  <path d="M6.6,335.2 L8.0,334.0 L10.0,331.0 L15.0,327.5 L20.0,330.5 L25.0,325.5 L29.0,329.0 L33.0,331.0 L38.0,328.5 L42.0,330.0 L46.3,325.5 L51.1,318.4 L54.0,316.0 L55.9,324.8 L57.5,328.0 L61.0,328.0 L62.5,325.0 L65.5,326.3 L69.5,323.2 L72.7,329.5 L76.3,336.0 L79.0,333.9 L82.2,334.8 L85.4,331.5 L87.8,338.3 L94.2,345.5 L98.2,356.2 L102.2,352.4 L107.0,351.1 L111.0,345.8 L115.0,345.2 L119.0,343.1 L121.4,348.7 L123.8,356.2 L127.0,359.9 L130.1,357.5 L133.3,350.8 L135.7,352.4 L142.9,347.9 L149.3,341.5 L152.5,337.2 L155.3,331.5 L158.3,327.9 L161.5,332.0 L164.7,329.0 L167.6,333.3 L170.8,338.9 L174.0,341.6 L177.9,343.7 L181.1,340.5 L183.2,333.3 L186.7,333.8 L189.9,332.0 L196.3,334.9 L200.3,330.9 L205.9,327.7 L209.4,320.2 L213.1,323.7 L218.7,322.5 L222.7,311.8 L225.0,311.8 L228.6,315.0 L234.6,311.8 L237.8,318.2 L241.8,320.2 L246.6,320.5 L248.7,323.7 L251.4,334.6 L256.2,334.9 L260.2,321.3 L263.7,321.3 L268.2,331.7 L271.4,336.2 L276.1,337.3 L279.3,341.3 L283.3,343.7 L285.7,343.7 L288.6,334.9 L292.1,335.7 L296.1,334.1 L299.3,330.9 L304.7,322.1 L308.1,326.9 L313.5,328.3 L320.2,331.7 L323.7,330.8 L326.0,338.5 L329.8,344.6 L334.2,347.7 L339.4,345.2 L343.8,339.4 L346.2,335.0 L349.6,334.6 L352.3,329.4 L357.7,331.3 L361.9,336.9 L365.4,333.7 L368.3,308.7 L371.2,301.0 L376.0,280.8 L380.8,256.7 L384.6,244.2 L387.5,238.5 L390.8,261.2 L394.2,258.1 L396.7,247.1 L400.0,264.4 L403.3,260.6 L406.7,264.4 L410.0,266.7 L413.1,276.0 L416.3,274.0 L419.6,276.9 L422.1,255.4 L425.4,255.4 L427.9,239.7 L431.6,221.2 L434.9,210.2 L436.8,173.2 L438.4,152.9 L441.8,182.5 L444.5,204.2 L447.9,197.2 L449.7,165.8 L451.4,151.1 L454.1,155.1 L459.9,152.9 L463.4,156.6 L465.8,163.1 L468.5,174.2 L472.2,195.4 L475.9,217.5 L479.6,234.2 L482.4,236.9 L486.1,237.8 L489.4,266.9 L498.1,274.0 L501.9,289.4 L504.8,286.2 L508.7,290.4 L511.2,290.4 L515.0,307.7 L520.2,309.2 L524.0,314.4 L527.5,326.5 L533.7,308.7 L539.4,300.0 L543.3,276.9 L546.5,275.4 L549.6,270.2 L553.8,280.8 L562.5,293.8 L565.8,317.7 L568.7,320.8 L575.0,309.6 L577.9,315.0 L581.7,331.7 L584.6,338.5 L587.5,341.0 L591.0,338.5 L594.2,341.0 L601.0,338.5 L603.5,333.1 L606.7,333.7 L610.2,336.5 L613.2,330.4 L617.2,338.4 L619.3,344.0 L622.5,342.0 L626.0,351.1 L629.2,353.5 L632.4,348.4 L635.2,350.3 L638.7,360.7 L641.6,365.2 L645.1,355.1 L648.3,359.9 L651.8,356.4 L655.5,355.9 L657.9,352.7 L661.1,344.3 L665.1,344.0 L669.9,345.5 L673.9,348.4 L676.7,357.5 L679.5,361.5 L683.1,363.4 L689.0,352.7 L693.0,358.3 L697.0,366.3 L699.1,371.4 L702.1,364.4 L705.8,371.1 L709.0,375.1 L712.2,372.7 L715.4,365.5 L718.6,364.7 L721.5,379.9 L725.0,375.1 L728.2,372.7 L731.4,375.9 L734.2,381.5 L737.7,375.1 L740.9,371.9 L743.8,365.5 L746.7,378.8 L750.5,377.2 L752.9,375.1 L756.9,367.1 L760.1,363.9 L762.5,346.5 L766.4,354.3 L772.5,362.8 L775.6,362.3 L778.8,358.3 L782.0,359.6 L784.8,355.4 L787.9,357.5 L793.5,362.3 L796.7,362.3 L800.7,358.3 L803.9,367.1 L807.1,375.9 L810.3,393.8 L813.5,390.3 L816.7,391.1 L819.9,394.3 L825.5,385.1 L829.5,382.3 L832.7,376.7 L838.2,375.6 L841.4,371.1 L845.4,363.9 L851.3,368.4 L854.2,359.9 L858.2,357.8 L864.6,357.5 L867.3,364.7 L871.0,366.6 L874.2,366.6 L877.4,364.7 L880.6,367.1 L883.8,368.4 L887.7,371.9 L892.5,375.9 L895.7,376.7 L899.7,374.3 L902.9,370.3 L906.1,365.0 L909.3,363.9 L912.5,363.4 L914.9,354.3 L918.5,348.5 L926.0,354.0" fill="none" stroke="#ea3943" stroke-width="2.35" stroke-linejoin="round" stroke-linecap="round" clip-path="url(#dn)"/>

  <!-- open label -->
  <rect x="8" y="326" width="61" height="28" rx="6.5" fill="#222531" fill-opacity="0.93"/>

  <!-- current price label -->
  <rect x="926" y="337.7" width="60.3" height="31" rx="4" fill="#ea3943"/>

  <!-- watermark -->
  <g fill="none" stroke="#cfd6e4" stroke-width="2.8" stroke-linecap="round" stroke-linejoin="round">
    <path d="M756.6,448.7 A13.3,13.3 0 1 1 760.65,439.3 C760.6,442.8 759.4,444.4 757.7,444.4 C755.7,444.4 754.7,443 754.7,441 V437.3 C754.7,434.6 752.5,434.2 751.4,436 L746.8,442.9 L745.2,436.6 C744.6,434.4 742.9,434.4 741.9,436.2 L737.2,446"/>
  </g>

  <!-- analyze button -->
  <path d="M864.5,532.5 L869,527.6 L873.5,532.5 Z" fill="#3861fb"/>
  <rect x="816" y="532" width="107" height="30" rx="15" fill="#3861fb"/>
  <g fill="none" stroke="#fff" stroke-width="1.6" stroke-linecap="round" stroke-linejoin="round">
    <path d="M841.1,546.6 A6.9,6.9 0 1 0 829.3,551.5 L826.6,554.6 L831.8,553.1 A6.9,6.9 0 0 0 838.6,551.9"/>
    <path d="M829.9,549 L832.4,544.6 L834.5,548.8 L836.9,544.5 C837.6,543.9 838.4,544.6 838.4,545.6 V547.4 C838.4,549 840.9,549.2 841.1,546.6"/>
    <path d="M904.7,543.7 L908.8,547.9 L904.7,552.1"/>
  </g>

  <!-- mini chart -->
  <g stroke="#252937" stroke-width="1.3" fill="none">
    <path d="M6,567.2 H925.6 M57.7,567 V617 M184.3,567 V617 M310.5,567 V617 M436.3,567 V617 M562.6,567 V617 M689.3,567 V617 M816.4,567 V617 M925.4,567 V617"/>
  </g>
  <path d="M6.0,614.7 L10.0,614.5 L15.0,613.5 L25.0,614.0 L40.0,614.8 L50.0,616.0 L80.0,616.0 L100.0,615.5 L120.0,615.3 L140.0,615.7 L160.0,616.0 L167.0,615.3 L172.0,615.7 L195.0,615.3 L200.0,615.0 L205.0,616.0 L230.0,616.0 L245.0,614.5 L250.0,613.3 L262.0,613.0 L268.0,614.0 L290.0,614.7 L300.0,614.3 L310.0,614.0 L313.0,612.0 L323.0,611.7 L327.0,606.7 L331.0,609.3 L335.5,602.9 L342.0,599.6 L344.8,593.6 L347.1,581.6 L348.9,578.4 L352.2,577.0 L354.7,572.2 L356.8,576.1 L358.6,586.2 L360.0,589.9 L362.3,591.3 L364.4,587.4 L366.9,593.6 L372.0,600.0 L376.0,601.0 L381.0,603.3 L386.0,598.7 L391.0,590.7 L393.3,593.7 L396.0,588.0 L399.0,592.7 L405.0,597.3 L410.0,593.3 L415.0,590.0 L419.3,584.0 L422.0,590.7 L426.0,593.3 L431.0,600.0 L435.0,598.7 L441.7,602.0 L448.3,606.7 L452.0,604.7 L457.0,608.0 L460.0,606.0 L464.0,607.3 L468.7,601.7 L474.0,604.7 L480.0,608.7 L483.3,612.0 L493.0,611.0 L496.0,612.7 L506.0,612.3 L514.7,610.3 L520.0,612.0 L540.0,613.0 L562.0,614.0 L573.0,612.7 L583.0,611.7 L587.0,613.0 L600.0,612.7 L620.0,613.7 L634.0,613.7 L660.0,614.0 L670.0,613.0 L680.0,612.3 L685.0,610.7 L690.0,610.0 L696.0,611.0 L704.0,611.0 L706.0,608.3 L712.0,607.7 L722.0,608.0 L726.0,607.3 L732.0,609.7 L744.0,610.3 L752.0,612.0 L758.0,611.3 L770.0,612.3 L784.0,612.7 L796.0,612.3 L802.0,611.0 L806.0,606.0 L808.0,604.0 L811.0,605.0 L813.0,608.0 L818.0,607.0 L824.0,607.3 L828.0,610.0 L836.0,611.0 L846.0,612.0 L852.0,612.7 L862.0,611.3 L870.0,612.7 L880.0,613.0 L890.0,612.0 L900.0,612.7 L908.0,612.3 L916.0,613.7 L925.0,615.0 L925,617 L6,617 Z" fill="#6068b0" fill-opacity="0.24"/>
  <path d="M6.0,614.7 L10.0,614.5 L15.0,613.5 L25.0,614.0 L40.0,614.8 L50.0,616.0 L80.0,616.0 L100.0,615.5 L120.0,615.3 L140.0,615.7 L160.0,616.0 L167.0,615.3 L172.0,615.7 L195.0,615.3 L200.0,615.0 L205.0,616.0 L230.0,616.0 L245.0,614.5 L250.0,613.3 L262.0,613.0 L268.0,614.0 L290.0,614.7 L300.0,614.3 L310.0,614.0 L313.0,612.0 L323.0,611.7 L327.0,606.7 L331.0,609.3 L335.5,602.9 L342.0,599.6 L344.8,593.6 L347.1,581.6 L348.9,578.4 L352.2,577.0 L354.7,572.2 L356.8,576.1 L358.6,586.2 L360.0,589.9 L362.3,591.3 L364.4,587.4 L366.9,593.6 L372.0,600.0 L376.0,601.0 L381.0,603.3 L386.0,598.7 L391.0,590.7 L393.3,593.7 L396.0,588.0 L399.0,592.7 L405.0,597.3 L410.0,593.3 L415.0,590.0 L419.3,584.0 L422.0,590.7 L426.0,593.3 L431.0,600.0 L435.0,598.7 L441.7,602.0 L448.3,606.7 L452.0,604.7 L457.0,608.0 L460.0,606.0 L464.0,607.3 L468.7,601.7 L474.0,604.7 L480.0,608.7 L483.3,612.0 L493.0,611.0 L496.0,612.7 L506.0,612.3 L514.7,610.3 L520.0,612.0 L540.0,613.0 L562.0,614.0 L573.0,612.7 L583.0,611.7 L587.0,613.0 L600.0,612.7 L620.0,613.7 L634.0,613.7 L660.0,614.0 L670.0,613.0 L680.0,612.3 L685.0,610.7 L690.0,610.0 L696.0,611.0 L704.0,611.0 L706.0,608.3 L712.0,607.7 L722.0,608.0 L726.0,607.3 L732.0,609.7 L744.0,610.3 L752.0,612.0 L758.0,611.3 L770.0,612.3 L784.0,612.7 L796.0,612.3 L802.0,611.0 L806.0,606.0 L808.0,604.0 L811.0,605.0 L813.0,608.0 L818.0,607.0 L824.0,607.3 L828.0,610.0 L836.0,611.0 L846.0,612.0 L852.0,612.7 L862.0,611.3 L870.0,612.7 L880.0,613.0 L890.0,612.0 L900.0,612.7 L908.0,612.3 L916.0,613.7 L925.0,615.0" fill="none" stroke="#4a72ea" stroke-width="1.3" stroke-linejoin="round"/>
  <rect x="914.8" y="579.4" width="19.8" height="25.2" rx="9.9" fill="#181c29"/>
  <path d="M923,587.2 V596 M926.7,587.2 V596" stroke="#c9ccd6" stroke-width="1.5" fill="none"/>
</svg>

<!-- labels -->
<div class="lab" style="left:14.3px;top:332px;font-weight:700;color:#a1a7bb;font-size:14px;letter-spacing:-0.15px;-webkit-text-stroke:0">0.01717</div>
<div class="lab" style="left:932.8px;top:346px;font-weight:700;color:#fff;font-size:14.5px;letter-spacing:0.25px;-webkit-text-stroke:0">0.0170</div>

<div class="lab" style="left:934px;top:136px">0.0185</div>
<div class="lab" style="left:934px;top:208.7px">0.0180</div>
<div class="lab" style="left:934px;top:282px">0.0175</div>
<div class="lab" style="left:934px;top:427.3px">0.0165</div>
<div class="lab" style="left:940.8px;top:485.5px;font-weight:700;font-size:15px;letter-spacing:0.25px;color:#959bb1;-webkit-text-stroke:0">USD</div>

<div class="lab" style="left:13.3px;top:510.7px;letter-spacing:0.35px">12:00 PM</div>
<div class="lab" style="left:131.7px;top:510.7px">3:00 PM</div>
<div class="lab" style="left:246px;top:510.7px">6:00 PM</div>
<div class="lab" style="left:360.5px;top:510.7px">9:00 PM</div>
<div class="lab" style="left:480px;top:510.7px">12 Nov</div>
<div class="lab" style="left:590px;top:510.7px">3:00 AM</div>
<div class="lab" style="left:703.6px;top:510.7px">6:00 AM</div>
<div class="lab" style="left:818.4px;top:510.7px">9:00 AM</div>

<div class="lab" style="left:42.5px;top:624px">2019</div>
<div class="lab" style="left:169px;top:624px">2020</div>
<div class="lab" style="left:295.5px;top:624px">2021</div>
<div class="lab" style="left:421px;top:624px">2022</div>
<div class="lab" style="left:547.5px;top:624px">2023</div>
<div class="lab" style="left:674px;top:624px">2024</div>
<div class="lab" style="left:801px;top:624px">2025</div>

<div class="lab" style="left:771.5px;top:428.5px;font-size:19px;line-height:22px;font-weight:700;color:#cfd6e4;letter-spacing:-0.2px;-webkit-text-stroke:0">CoinMarketCap</div>
<div class="lab" style="left:845.8px;top:538px;font-size:14px;font-weight:700;color:#fff;letter-spacing:0;-webkit-text-stroke:0.3px #fff">Analyze</div>

</body></html>
